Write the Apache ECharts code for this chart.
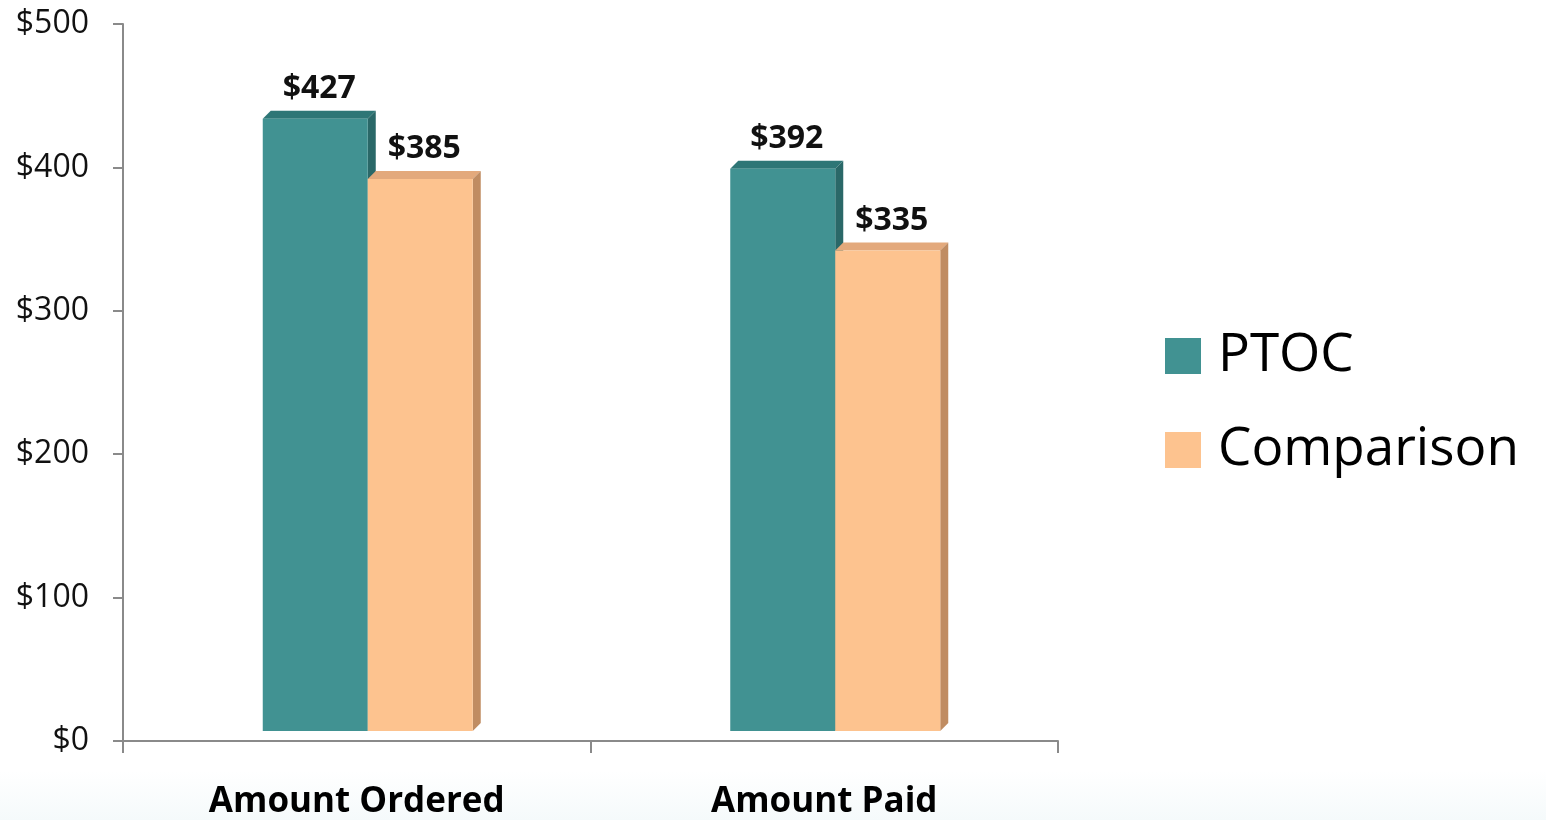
<!DOCTYPE html>
<html>
<head>
<meta charset="utf-8">
<script src="https://cdn.jsdelivr.net/npm/echarts@6/dist/echarts.min.js"></script>
<style>
html,body{margin:0;padding:0;background:#fff;}
#chart{width:1546px;height:820px;}
</style>
</head>
<body>
<div id="chart"></div>
<script>
const categories = ['Amount Ordered', 'Amount Paid'];
const seriesNames = ['PTOC', 'Comparison'];
const ptocValues = [427, 392];
const comparisonValues = [385, 335];
const yTicks = [0, 100, 200, 300, 400, 500];

const BAR_W = 105;
const DEPTH = 8;
const SHIFT_X = 11;   // perspective shift of the bar block
const SHIFT_Y = -10;  // bars float slightly above the floor line
const frontColors = ['#419292', '#FDC38F'];
const topColors = ['#2E7676', '#E3A97C'];
const sideColors = ['#2A6868', '#C08C62'];

const chart = echarts.init(document.getElementById('chart'));

function barSeries(sIdx, values) {
  return {
    type: 'custom',
    name: seriesNames[sIdx],
    z: 3,
    itemStyle: { color: frontColors[sIdx] },
    data: values.map((v, i) => [i, v]),
    renderItem: function (params, api) {
      const i = api.value(0), v = api.value(1);
      const top = api.coord([i, v]);
      const base = api.coord([i, 0]);
      const x0 = top[0] + SHIFT_X + (sIdx === 0 ? -BAR_W : 0);
      const x1 = x0 + BAR_W;
      const yT = top[1] + SHIFT_Y, yB = base[1] + SHIFT_Y;
      const d = DEPTH;
      return {
        type: 'group',
        children: [
          { type: 'polygon', z2: 1, shape: { points: [[x0, yT], [x0 + d, yT - d], [x1 + d, yT - d], [x1, yT]] },
            style: { fill: topColors[sIdx] } },
          { type: 'polygon', z2: 1, shape: { points: [[x1, yT], [x1 + d, yT - d], [x1 + d, yB - d], [x1, yB]] },
            style: { fill: sideColors[sIdx] } },
          { type: 'rect', z2: 2 + sIdx, shape: { x: x0, y: yT, width: BAR_W, height: yB - yT },
            style: { fill: frontColors[sIdx] },
            textContent: {
              style: { text: '$' + v, fontFamily: 'Open Sans', fontWeight: 'bold', fontSize: 32, fill: '#111' }
            },
            textConfig: { position: 'top', distance: DEPTH + 6, offset: [d / 2, 0] }
          }
        ]
      };
    }
  };
}

chart.setOption({
  backgroundColor: {
    type: 'linear', x: 0, y: 0, x2: 0, y2: 1,
    colorStops: [{ offset: 0, color: '#ffffff' }, { offset: 0.94, color: '#ffffff' }, { offset: 1, color: '#F5FAFB' }]
  },
  animation: false,
  grid: { left: 123, right: 488, top: 24, bottom: 77, containLabel: false },
  legend: {
    data: seriesNames,
    orient: 'vertical',
    left: 1165, top: 327, padding: 0,
    icon: 'rect', itemWidth: 36, itemHeight: 36, itemGap: 36,
    textStyle: { fontFamily: 'Open Sans', fontSize: 53, color: '#000', lineHeight: 58, padding: [0, 0, 0, 12] }
  },
  xAxis: {
    type: 'category', data: categories,
    axisLine: { lineStyle: { color: '#8a8a8a', width: 2 } },
    axisTick: { show: true, length: 12, lineStyle: { color: '#8a8a8a', width: 2 } },
    axisLabel: { fontFamily: 'Open Sans', fontWeight: 'bold', fontSize: 35, color: '#000', margin: 44 }
  },
  yAxis: {
    type: 'value', min: 0, max: 500, interval: 100,
    axisLine: { show: true, lineStyle: { color: '#8a8a8a', width: 2 } },
    axisTick: { show: true, length: 10, lineStyle: { color: '#8a8a8a', width: 2 } },
    splitLine: { show: false },
    axisLabel: { fontFamily: 'Open Sans', fontSize: 32, color: '#111', margin: 34,
      formatter: v => yTicks.includes(v) ? '$' + v : '' }
  },
  series: [
    barSeries(0, ptocValues),
    barSeries(1, comparisonValues)
  ]
});
</script>
</body>
</html>
